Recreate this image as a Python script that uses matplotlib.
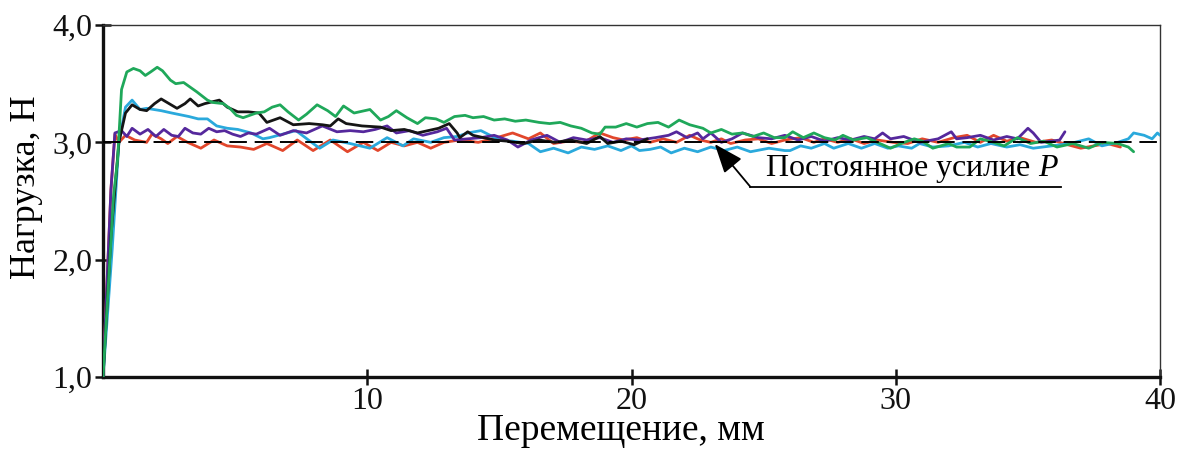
import numpy as np
import matplotlib.pyplot as plt

plt.rcParams['font.family'] = ['Liberation Serif', 'DejaVu Serif']
plt.rcParams['mathtext.fontset'] = 'custom'
plt.rcParams['mathtext.it'] = 'Liberation Serif:italic'

# load curves, displacement (mm) vs load (N)
green_x = [0.0, 0.4, 0.55, 0.7, 0.9, 1.15, 1.4, 1.6, 1.8, 2.05, 2.25, 2.55, 2.75, 3.05, 3.3, 3.55,
           3.95, 4.15, 4.55, 4.8, 5.05, 5.3, 5.8, 6.1, 6.4, 6.7, 7.0, 7.4, 7.7, 8.1, 8.5, 8.8, 9.1,
           9.5, 10.1, 10.5, 10.8, 11.1, 11.5, 11.9, 12.2, 12.6, 12.9, 13.3, 13.7, 14.0, 14.4, 14.8,
           15.2, 15.6, 16.0, 16.5, 16.9, 17.3, 17.7, 18.1, 18.5, 18.8, 19.0, 19.4, 19.8, 20.2, 20.6,
           21.0, 21.4, 21.8, 22.2, 22.7, 23.0, 23.4, 23.8, 24.2, 24.6, 25.0, 25.4, 25.8, 26.1, 26.5,
           26.9, 27.3, 27.7, 28.0, 28.4, 28.9, 29.3, 29.8, 30.2, 30.7, 31.0, 31.4, 32.0, 32.3, 32.8,
           33.2, 33.7, 34.1, 34.6, 35.1, 35.6, 36.1, 36.7, 37.3, 37.8, 38.4, 38.8, 39.0]
green_y = [1.00, 2.55, 2.85, 3.45, 3.60, 3.63, 3.61, 3.57, 3.60, 3.64, 3.61, 3.53, 3.50, 3.51, 3.47, 3.43,
           3.36, 3.34, 3.33, 3.29, 3.23, 3.21, 3.25, 3.26, 3.30, 3.32, 3.26, 3.19, 3.24, 3.32, 3.27, 3.22, 3.31,
           3.25, 3.28, 3.19, 3.22, 3.27, 3.21, 3.16, 3.21, 3.20, 3.17, 3.22, 3.23, 3.21, 3.22, 3.19,
           3.20, 3.18, 3.19, 3.17, 3.16, 3.17, 3.14, 3.12, 3.08, 3.07, 3.13, 3.13, 3.16, 3.13, 3.16,
           3.17, 3.13, 3.19, 3.15, 3.12, 3.08, 3.11, 3.07, 3.08, 3.05, 3.08, 3.04, 3.04, 3.09, 3.04,
           3.08, 3.04, 3.02, 3.06, 3.02, 3.04, 3.00, 2.95, 2.99, 3.03, 3.01, 2.95, 2.99, 2.96, 2.96,
           3.03, 3.00, 2.97, 3.04, 2.99, 3.01, 2.96, 2.99, 2.95, 3.00, 2.99, 2.96, 2.92]

black_x = [0.0, 0.3, 0.6, 0.85, 1.1, 1.4, 1.65, 1.95, 2.2, 2.5, 2.8, 3.1, 3.3, 3.6, 3.85, 4.4, 4.7,
           5.1, 5.5, 5.9, 6.2, 6.7, 7.2, 7.8, 8.3, 8.6, 8.9, 9.2, 9.8, 10.5, 10.9, 11.4, 11.9, 12.3,
           12.7, 13.1, 13.4, 13.5, 13.8, 14.0, 14.4, 14.8, 15.3, 15.9, 16.5, 17.1, 17.7, 18.3, 18.8,
           19.1, 19.6, 20.1, 20.6]
black_y = [1.00, 2.20, 3.00, 3.25, 3.32, 3.28, 3.27, 3.33, 3.37, 3.33, 3.29, 3.33, 3.37, 3.31, 3.33, 3.36, 3.30,
           3.26, 3.26, 3.25, 3.17, 3.21, 3.15, 3.16, 3.15, 3.14, 3.20, 3.16, 3.14, 3.13, 3.10, 3.11, 3.08, 3.10,
           3.12, 3.16, 3.08, 3.04, 3.09, 3.06, 3.04, 3.02, 3.01, 2.99, 3.02, 3.00, 3.02, 2.99, 3.05,
           2.99, 3.01, 2.98, 3.03]

cyan_x = [0.0, 0.35, 0.6, 0.85, 1.1, 1.4, 1.65, 2.2, 2.6, 3.25, 3.6, 3.95, 4.3, 4.7, 5.1, 5.6, 6.05,
          6.3, 6.8, 7.3, 7.95, 8.2, 8.7, 9.35, 10.1, 10.75, 11.35, 11.75, 12.4, 12.9, 13.4, 13.8, 14.3,
          15.0, 15.5, 16.1, 16.55, 17.05, 17.6, 18.1, 18.6, 19.1, 19.6, 20.0, 20.3, 20.7, 21.1, 21.5,
          22.0, 22.5, 23.0, 23.5, 24.0, 24.5, 25.2, 25.8, 26.0, 26.4, 26.8, 27.3, 27.65, 28.2, 28.7,
          29.2, 29.7, 30.1, 30.6, 30.9, 31.4, 32.0, 32.6, 33.1, 33.6, 34.2, 34.7, 35.2, 35.9, 36.6,
          37.3, 37.8, 38.4, 38.8, 39.0, 39.4, 39.7, 39.9, 40.0]
cyan_y = [1.00, 2.10, 3.00, 3.30, 3.36, 3.28, 3.29, 3.27, 3.25, 3.22, 3.20, 3.20, 3.14, 3.12, 3.11, 3.08, 3.03,
          3.04, 3.07, 3.10, 2.99, 2.95, 3.02, 2.99, 2.95, 3.04, 2.97, 3.03, 3.00, 3.04, 3.05, 3.08, 3.10,
          3.02, 3.01, 2.99, 2.92, 2.95, 2.91, 2.96, 2.94, 2.97, 2.93, 2.97, 2.93, 2.94, 2.96, 2.91,
          2.95, 2.92, 2.96, 2.93, 2.96, 2.92, 2.95, 2.93, 2.93, 2.97, 2.95, 2.99, 2.95, 2.99, 2.95,
          2.99, 2.95, 2.97, 2.95, 2.99, 2.96, 2.97, 3.00, 2.96, 2.99, 2.96, 2.98, 2.95, 2.97, 2.99,
          3.03, 2.97, 3.00, 3.03, 3.08, 3.06, 3.03, 3.08, 3.06]

purple_x = [0.0, 0.3, 0.45, 0.7, 0.9, 1.1, 1.4, 1.7, 2.0, 2.3, 2.6, 2.85, 3.1, 3.4, 3.7, 4.0, 4.3,
            4.6, 4.9, 5.2, 5.5, 5.8, 6.3, 6.7, 7.2, 7.7, 8.3, 8.85, 9.35, 9.85, 10.3, 10.75, 11.1, 11.6,
            12.1, 12.65, 13.0, 13.3, 13.8, 14.3, 14.8, 15.3, 15.7, 16.2, 16.8, 17.3, 17.8, 18.3, 18.8,
            19.3, 19.8, 20.3, 20.9, 21.4, 21.7, 22.1, 22.5, 22.7, 23.0, 23.4, 23.8, 24.2, 24.8, 25.3,
            25.8, 26.3, 26.8, 27.3, 27.8, 28.3, 28.8, 29.2, 29.5, 29.8, 30.3, 30.9, 31.6, 32.1, 32.3,
            32.7, 33.2, 33.7, 34.2, 34.6, 35.0, 35.2, 35.5, 35.9, 36.2, 36.4]
purple_y = [1.00, 2.60, 3.08, 3.10, 3.05, 3.12, 3.07, 3.11, 3.05, 3.11, 3.06, 3.05, 3.12, 3.08, 3.07, 3.12, 3.09,
            3.10, 3.07, 3.05, 3.08, 3.07, 3.12, 3.06, 3.10, 3.08, 3.14, 3.09, 3.10, 3.09, 3.11, 3.14, 3.08, 3.10,
            3.06, 3.09, 3.12, 3.02, 3.03, 3.04, 3.06, 3.02, 2.96, 3.02, 3.06, 3.00, 3.04, 3.02, 3.04,
            3.00, 3.03, 3.02, 3.04, 3.06, 3.09, 3.04, 3.08, 3.03, 3.08, 3.00, 3.03, 3.08, 3.04, 3.03,
            3.06, 3.02, 3.05, 3.01, 3.04, 3.02, 3.05, 3.03, 3.08, 3.03, 3.05, 3.00, 3.03, 3.09, 3.03,
            3.04, 3.06, 3.02, 3.05, 3.03, 3.12, 3.08, 3.00, 3.01, 3.02, 3.09]

red_x = [0.0, 0.3, 0.45, 0.6, 0.85, 1.2, 1.65, 1.85, 2.2, 2.45, 2.8, 3.2, 3.7, 4.2, 4.7, 5.2, 5.7,
         6.2, 6.8, 7.35, 7.95, 8.6, 9.25, 9.85, 10.4, 10.9, 11.4, 11.9, 12.4, 12.9, 13.5, 14.2, 14.9,
         15.5, 16.1, 16.55, 17.05, 17.6, 18.2, 18.8, 19.3, 19.7, 20.2, 20.7, 21.2, 21.7, 22.2, 22.6,
         23.0, 23.4, 23.75, 24.3, 24.8, 25.3, 25.8, 26.4, 26.9, 27.3, 27.8, 28.3, 28.8, 29.3, 29.9,
         30.45, 31.0, 31.6, 32.2, 32.7, 33.2, 33.7, 34.2, 34.7, 35.3, 35.9, 36.5, 37.0, 37.5, 38.0,
         38.5]
red_y = [1.00, 2.60, 3.07, 3.00, 3.06, 3.02, 3.00, 3.07, 3.03, 2.99, 3.05, 3.00, 2.95, 3.02, 2.97, 2.96, 2.94,
         2.99, 2.93, 3.02, 2.93, 3.02, 2.92, 3.00, 2.93, 3.00, 2.97, 3.00, 2.95, 3.00, 3.02, 3.00, 3.04,
         3.08, 3.03, 3.08, 2.99, 3.01, 3.00, 3.08, 3.04, 3.02, 3.04, 3.00, 3.03, 3.00, 3.06, 3.02,
         3.00, 3.03, 2.99, 3.02, 3.03, 2.99, 3.02, 3.04, 3.00, 3.03, 3.00, 3.03, 2.99, 3.02, 3.00,
         2.99, 3.03, 3.00, 3.04, 3.06, 3.00, 3.06, 3.01, 3.04, 3.00, 3.02, 2.98, 2.95, 2.97, 2.99,
         2.96]

target_load = 3.0
x_ticks = [10, 20, 30, 40]
y_ticks = [1.0, 2.0, 3.0, 4.0]
y_tick_labels = ['1,0', '2,0', '3,0', '4,0']

fig = plt.figure(figsize=(11.87, 4.5), dpi=100)
ax = fig.add_axes([0.0868, 0.1622, 0.8905, 0.7822])

style = dict(lw=2.0, solid_joinstyle='round', solid_capstyle='round')
ax.plot(red_x, red_y, color='#e2472c', zorder=3, **style)
ax.plot(cyan_x, cyan_y, color='#2aa9dc', zorder=4, **style)
ax.plot(purple_x, purple_y, color='#55289c', zorder=5, **style)
ax.plot(black_x, black_y, color='#151515', zorder=5, **style)
ax.plot(green_x, green_y, color='#1fa85a', zorder=6, **style)

# constant force level
ax.axhline(target_load, color='black', lw=1.4, ls=(0, (9, 4)), zorder=7)

# leader line with arrow and underlined caption
ax.annotate('', xy=(23.15, 2.985), xytext=(24.5, 2.62),
            arrowprops=dict(arrowstyle='-|>,head_length=0.9,head_width=0.35', color='black', lw=1.3,
                            mutation_scale=20, shrinkA=0, shrinkB=0), zorder=8)
ax.plot([24.5, 36.25], [2.62, 2.62], color='black', lw=1.3, zorder=8)
ax.text(30.6, 2.64, 'Постоянное усилие $P$', fontsize=23, ha='center', va='bottom')

ax.set_xlim(0, 40)
ax.set_ylim(1.0, 4.0)
ax.set_xticks(x_ticks)
ax.set_yticks(y_ticks)
ax.set_yticklabels(y_tick_labels)
ax.tick_params(direction='inout', length=11, width=1.8, labelsize=23, colors='#111111', pad=2)

for side in ['left', 'bottom']:
    ax.spines[side].set_linewidth(2.4)
    ax.spines[side].set_color('#111111')
for side in ['top', 'right']:
    ax.spines[side].set_linewidth(1.0)
    ax.spines[side].set_color('#333333')

ax.set_xlabel('Перемещение, мм', fontsize=27)
ax.xaxis.set_label_coords(0.49, -0.105)
ax.set_ylabel('Нагрузка, Н', fontsize=26)
ax.yaxis.set_label_coords(-0.057, 0.54)

fig.savefig('out.png', dpi=100)
